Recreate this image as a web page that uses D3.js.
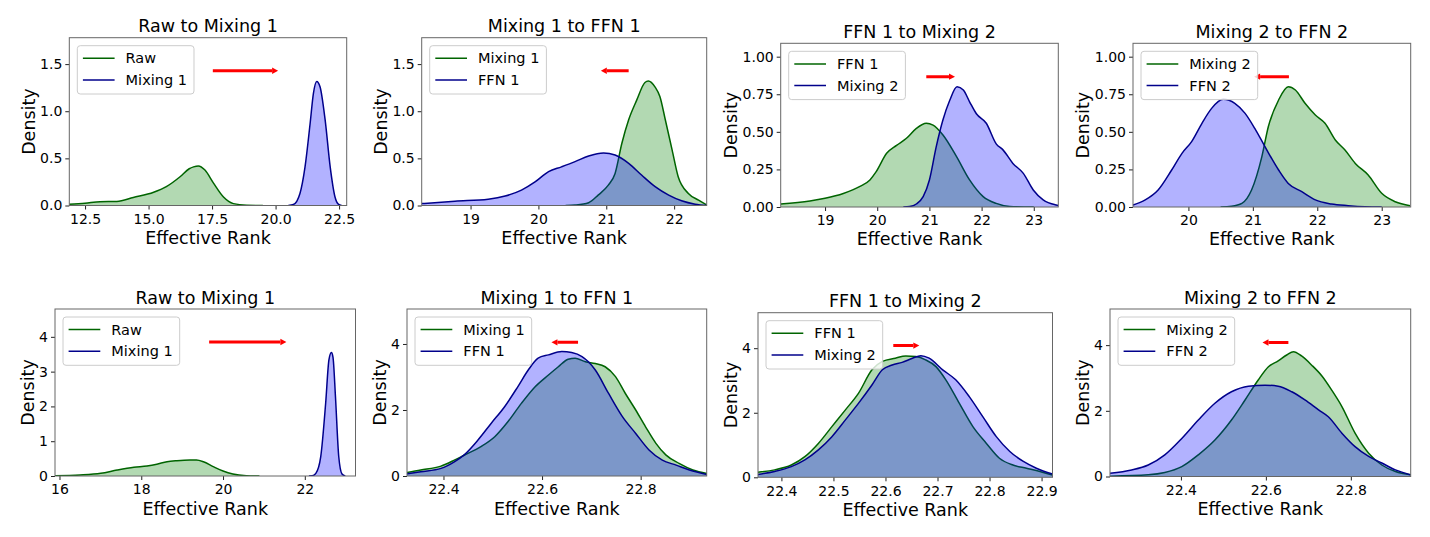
<!DOCTYPE html>
<html>
<head>
<meta charset="utf-8">
<script src="https://cdn.jsdelivr.net/npm/d3@7"></script>
<style>
  body { margin: 0; background: #fff; }
  svg { display: block; font-family: 'DejaVu Sans', sans-serif; }
</style>
</head>
<body>
<div id="chart"></div>
<script>
// ---- data ----
const titles = ['Raw to Mixing 1', 'Mixing 1 to FFN 1', 'FFN 1 to Mixing 2', 'Mixing 2 to FFN 2',
  'Raw to Mixing 1', 'Mixing 1 to FFN 1', 'FFN 1 to Mixing 2', 'Mixing 2 to FFN 2']
const legendNames = [['Raw', 'Mixing 1'], ['Mixing 1', 'FFN 1'], ['FFN 1', 'Mixing 2'], ['Mixing 2', 'FFN 2'],
  ['Raw', 'Mixing 1'], ['Mixing 1', 'FFN 1'], ['FFN 1', 'Mixing 2'], ['Mixing 2', 'FFN 2']]

const xLimits = [[11.88, 22.80], [18.28, 22.48], [18.15, 23.47], [19.14, 23.45],
  [15.89, 23.24], [22.326, 22.934], [22.355, 22.921], [22.233, 22.941]]
const yLimits = [1.78, 1.78, 1.089, 1.089, 4.8, 5.06, 5.1, 5.1]

const xTicks = [[12.5, 15, 17.5, 20, 22.5], [19, 20, 21, 22], [19, 20, 21, 22, 23], [20, 21, 22, 23],
  [16, 18, 20, 22], [22.4, 22.6, 22.8], [22.4, 22.5, 22.6, 22.7, 22.8, 22.9], [22.4, 22.6, 22.8]]
const yTicks = [[0, 0.5, 1, 1.5], [0, 0.5, 1, 1.5], [0, 0.25, 0.5, 0.75, 1], [0, 0.25, 0.5, 0.75, 1],
  [0, 1, 2, 3, 4], [0, 2, 4], [0, 2, 4], [0, 2, 4]]

// shift arrows: [from, to, height]
const arrows = [[17.53, 20.1, 1.43], [21.33, 20.92, 1.43], [20.94, 21.49, 0.867], [21.56, 21.02, 0.867],
  [19.66, 21.55, 3.85], [22.673, 22.619, 4.05], [22.615, 22.665, 4.08], [22.653, 22.592, 4.08]]

// density curves [effective rank, density]
const t1Raw = [[11.88, 0.014], [12.5, 0.025], [13.09, 0.04], [13.75, 0.043], [14.4, 0.085], [15.2, 0.14], [15.7, 0.2],
  [16.24, 0.305], [16.6, 0.39], [16.77, 0.41], [16.96, 0.42], [17.22, 0.376], [17.55, 0.24], [17.95, 0.09],
  [18.34, 0.02], [18.86, 0.003], [19.5, 0]]
const t1Mixing1 = [[20.5, 0], [20.7, 0.01], [20.96, 0.128], [21.16, 0.41], [21.36, 0.87], [21.49, 1.19], [21.62, 1.316],
  [21.75, 1.26], [21.95, 0.91], [22.15, 0.41], [22.34, 0.09], [22.47, 0.014], [22.6, 0]]
const t2Mixing1 = [[20.4, 0], [20.54, 0.005], [20.74, 0.03], [20.88, 0.11], [21.03, 0.216], [21.13, 0.34], [21.23, 0.66],
  [21.33, 0.91], [21.45, 1.12], [21.57, 1.305], [21.62, 1.32], [21.72, 1.255], [21.79, 1.156], [21.87, 0.91],
  [21.97, 0.59], [22.06, 0.305], [22.21, 0.128], [22.36, 0.057], [22.48, 0.007]]
const t2Ffn1 = [[18.28, 0.02], [18.77, 0.046], [19.26, 0.067], [19.51, 0.1], [19.75, 0.163], [19.95, 0.25], [20.15, 0.36],
  [20.34, 0.41], [20.54, 0.465], [20.74, 0.525], [20.96, 0.557], [21.13, 0.535], [21.33, 0.447], [21.52, 0.323],
  [21.72, 0.2], [21.92, 0.11], [22.11, 0.05], [22.31, 0.014], [22.48, 0]]
const t3Ffn1 = [[18.15, 0.02], [18.71, 0.04], [19.0, 0.058], [19.35, 0.09], [19.66, 0.135], [19.86, 0.18], [19.98, 0.235],
  [20.18, 0.357], [20.37, 0.41], [20.56, 0.457], [20.75, 0.523], [20.94, 0.557], [21.07, 0.545], [21.26, 0.479],
  [21.52, 0.335], [21.77, 0.18], [22.03, 0.069], [22.28, 0.024], [22.54, 0.004], [23.0, 0]]
const t3Mixing2 = [[20.5, 0], [20.62, 0.003], [20.75, 0.02], [20.88, 0.069], [21.0, 0.18], [21.13, 0.4], [21.26, 0.58],
  [21.39, 0.71], [21.53, 0.8], [21.65, 0.778], [21.77, 0.7], [21.9, 0.62], [22.09, 0.557], [22.28, 0.42],
  [22.41, 0.38], [22.6, 0.29], [22.8, 0.224], [22.99, 0.113], [23.18, 0.047], [23.43, 0.013], [23.47, 0.01]]
const t4Mixing2 = [[20.5, 0], [20.67, 0.005], [20.83, 0.024], [20.98, 0.113], [21.14, 0.335], [21.24, 0.534], [21.4, 0.712],
  [21.55, 0.8], [21.66, 0.778], [21.81, 0.69], [21.97, 0.612], [22.12, 0.557], [22.28, 0.446], [22.43, 0.379],
  [22.59, 0.29], [22.79, 0.213], [23.0, 0.091], [23.21, 0.035], [23.44, 0.009]]
const t4Ffn2 = [[19.14, 0.013], [19.33, 0.047], [19.53, 0.113], [19.74, 0.246], [19.9, 0.357], [20.05, 0.435], [20.21, 0.557],
  [20.36, 0.656], [20.54, 0.716], [20.72, 0.69], [20.88, 0.623], [21.03, 0.523], [21.19, 0.4], [21.4, 0.246],
  [21.55, 0.157], [21.76, 0.102], [21.97, 0.047], [22.22, 0.02], [22.48, 0.009], [22.74, 0.002], [23.0, 0]]

const b1Raw = [[15.89, 0.01], [16.5, 0.03], [17.01, 0.077], [17.41, 0.17], [17.82, 0.25], [18.14, 0.29], [18.38, 0.34],
  [18.63, 0.41], [18.87, 0.44], [19.19, 0.46], [19.35, 0.46], [19.52, 0.41], [19.76, 0.27], [20.0, 0.144],
  [20.24, 0.058], [20.57, 0.01], [20.89, 0]]
const b1Mixing1 = [[22.1, 0], [22.18, 0.005], [22.27, 0.077], [22.39, 0.56], [22.51, 2.09], [22.59, 3.34], [22.65, 3.55],
  [22.69, 3.41], [22.75, 2.28], [22.83, 0.56], [22.91, 0.058], [22.99, 0]]
const b2Mixing1 = [[22.323, 0.1], [22.354, 0.18], [22.395, 0.3], [22.422, 0.48], [22.442, 0.63], [22.476, 0.89],
  [22.504, 1.19], [22.531, 1.65], [22.558, 2.2], [22.585, 2.69], [22.613, 3.06], [22.633, 3.31], [22.653, 3.54],
  [22.667, 3.57], [22.688, 3.46], [22.708, 3.41], [22.728, 3.31], [22.749, 3.01], [22.769, 2.5], [22.79, 2.0],
  [22.81, 1.49], [22.831, 0.99], [22.851, 0.64], [22.878, 0.38], [22.906, 0.18], [22.936, 0.07]]
const b2Ffn1 = [[22.323, 0.06], [22.354, 0.13], [22.395, 0.23], [22.422, 0.43], [22.442, 0.64], [22.47, 1.09],
  [22.497, 1.6], [22.524, 2.1], [22.551, 2.71], [22.572, 3.21], [22.592, 3.57], [22.613, 3.67], [22.64, 3.77],
  [22.66, 3.74], [22.681, 3.62], [22.694, 3.46], [22.708, 3.21], [22.735, 2.5], [22.763, 1.8], [22.79, 1.29],
  [22.817, 0.79], [22.844, 0.48], [22.872, 0.33], [22.899, 0.18], [22.936, 0.04]]
const b3Ffn1 = [[22.352, 0.155], [22.387, 0.23], [22.419, 0.38], [22.445, 0.64], [22.471, 1.05], [22.497, 1.57],
  [22.523, 2.09], [22.548, 2.6], [22.574, 3.33], [22.594, 3.59], [22.619, 3.69], [22.639, 3.76], [22.658, 3.74],
  [22.677, 3.64], [22.697, 3.43], [22.716, 3.02], [22.742, 2.29], [22.768, 1.57], [22.794, 1.05], [22.819, 0.59],
  [22.845, 0.38], [22.871, 0.28], [22.897, 0.18], [22.921, 0.07]]
const b3Mixing2 = [[22.352, 0.08], [22.387, 0.18], [22.419, 0.33], [22.445, 0.54], [22.471, 0.85], [22.497, 1.26],
  [22.523, 1.78], [22.548, 2.29], [22.574, 2.86], [22.594, 3.33], [22.613, 3.48], [22.632, 3.56], [22.652, 3.69],
  [22.668, 3.77], [22.684, 3.69], [22.71, 3.33], [22.735, 3.02], [22.761, 2.5], [22.787, 1.88], [22.813, 1.26],
  [22.839, 0.8], [22.865, 0.49], [22.89, 0.28], [22.921, 0.1]]
const b4Mixing2 = [[22.233, 0.01], [22.323, 0.05], [22.362, 0.12], [22.402, 0.3], [22.441, 0.66], [22.48, 1.11],
  [22.519, 1.72], [22.551, 2.33], [22.582, 2.94], [22.606, 3.34], [22.629, 3.52], [22.649, 3.7], [22.665, 3.8],
  [22.684, 3.67], [22.708, 3.39], [22.732, 3.06], [22.755, 2.63], [22.779, 2.13], [22.81, 1.32], [22.842, 0.71],
  [22.873, 0.35], [22.905, 0.15], [22.941, 0.05]]
const b4Ffn2 = [[22.233, 0.1], [22.284, 0.2], [22.323, 0.35], [22.362, 0.66], [22.402, 1.16], [22.441, 1.72],
  [22.48, 2.23], [22.519, 2.58], [22.559, 2.75], [22.598, 2.78], [22.629, 2.75], [22.661, 2.58], [22.692, 2.33],
  [22.724, 2.03], [22.747, 1.82], [22.779, 1.32], [22.81, 0.91], [22.842, 0.61], [22.873, 0.41], [22.905, 0.2],
  [22.941, 0.05]]

const greenSeries = [t1Raw, t2Mixing1, t3Ffn1, t4Mixing2, b1Raw, b2Mixing1, b3Ffn1, b4Mixing2]
const blueSeries = [t1Mixing1, t2Ffn1, t3Mixing2, t4Ffn2, b1Mixing1, b2Ffn1, b3Mixing2, b4Ffn2]

// ---- layout ----
const W = 1430, H = 537
// plot area of each panel: [left, top, right, bottom]
const boxes = [
  [69.3, 37.7, 346.7, 205.5], [421.7, 37.7, 706.7, 205.5], [780.7, 43.3, 1058.3, 207], [1133, 43.3, 1410.7, 207],
  [55, 309, 355.5, 476], [407, 309, 706.7, 476], [758, 312.7, 1052.5, 477.3], [1110, 309, 1410.7, 476.5]
]
const xFormats = ['.1f', 'd', 'd', 'd', 'd', '.1f', '.1f', '.1f']
const yFormats = ['.1f', '.1f', '.2f', '.2f', 'd', 'd', 'd', 'd']
const colors = [
  { line: '#006400', fill: 'rgba(0,128,0,0.3)' },
  { line: '#00008b', fill: 'rgba(0,0,255,0.3)' }
]

const svg = d3.select('#chart').append('svg').attr('width', W).attr('height', H)

titles.forEach((title, i) => {
  let [l, t, r, b] = boxes[i]
  let w = r - l, h = b - t
  let x = d3.scaleLinear().domain(xLimits[i]).range([0, w])
  let y = d3.scaleLinear().domain([0, yLimits[i]]).range([h, 0])
  let g = svg.append('g').attr('transform', `translate(${l}, ${t})`)

  g.append('clipPath').attr('id', 'clip' + i)
    .append('rect').attr('width', w).attr('height', h)
  let plot = g.append('g').attr('clip-path', `url(#clip${i})`)

  let area = d3.area().x(d => x(d[0])).y0(h).y1(d => y(d[1])).curve(d3.curveMonotoneX)
  let line = d3.line().x(d => x(d[0])).y(d => y(d[1])).curve(d3.curveMonotoneX)

  ;[greenSeries[i], blueSeries[i]].forEach((data, k) => {
    plot.append('path').datum(data).attr('d', area).attr('fill', colors[k].fill)
    plot.append('path').datum(data).attr('d', line)
      .attr('fill', 'none').attr('stroke', colors[k].line).attr('stroke-width', 1.5)
  })

// axes
  let xAxis = d3.axisBottom(x).tickValues(xTicks[i]).tickFormat(d3.format(xFormats[i]))
    .tickSize(4).tickPadding(4.5)
  let gx = g.append('g').attr('transform', `translate(0, ${h})`).call(xAxis)
  let yAxis = d3.axisLeft(y).tickValues(yTicks[i]).tickFormat(d3.format(yFormats[i]))
    .tickSize(4).tickPadding(3)
  let gy = g.append('g').call(yAxis)
  ;[gx, gy].forEach(a => {
    a.attr('font-size', 14).attr('font-family', null)
    a.select('.domain').remove()
    a.selectAll('line').attr('stroke', '#222')
    a.selectAll('text').attr('fill', '#000')
  })

  g.append('rect').attr('width', w).attr('height', h)
    .attr('fill', 'none').attr('stroke', '#666').attr('stroke-width', 1)

// arrow
  let [from, to, ay] = arrows[i]
  let dir = Math.sign(to - from), headLen = 6, headW = 3.2
  let tip = x(to), py = y(ay)
  plot.append('line')
    .attr('x1', x(from)).attr('y1', py).attr('x2', tip - dir * headLen).attr('y2', py)
    .attr('stroke', 'red').attr('stroke-width', 3)
  plot.append('path')
    .attr('d', `M${tip},${py}L${tip - dir * headLen},${py - headW}L${tip - dir * headLen},${py + headW}Z`)
    .attr('fill', 'red')

// titles
  g.append('text').text(title).attr('x', w / 2).attr('y', -5.5)
    .attr('text-anchor', 'middle').attr('font-size', 17.5)
  g.append('text').text('Effective Rank').attr('x', w / 2).attr('y', h + 38.5)
    .attr('text-anchor', 'middle').attr('font-size', 17.5)
  let tickW = d3.max(gy.selectAll('text').nodes(), n => n.getComputedTextLength())
  g.append('text').text('Density')
    .attr('transform', `translate(${-(tickW + 12.4)}, ${h / 2}) rotate(-90)`)
    .attr('text-anchor', 'middle').attr('font-size', 17.5)

// legend
  let lg = g.append('g').attr('transform', 'translate(8, 8)')
  let box = lg.append('rect').attr('height', 48.3).attr('rx', 3)
    .attr('fill', 'white').attr('fill-opacity', 0.8).attr('stroke', '#ccc')
  let textW = 0
  legendNames[i].forEach((name, k) => {
    let cy = 12.6 + k * 21.7
    lg.append('line').attr('x1', 5.6).attr('x2', 37.3).attr('y1', cy).attr('y2', cy)
      .attr('stroke', colors[k].line).attr('stroke-width', 1.5)
    let tx = lg.append('text').text(name).attr('x', 48.3).attr('y', cy).attr('dy', '0.35em')
      .attr('font-size', 14.5)
    textW = Math.max(textW, tx.node().getComputedTextLength())
  })
  box.attr('width', 48.3 + textW + 7)
})
</script>
</body>
</html>
